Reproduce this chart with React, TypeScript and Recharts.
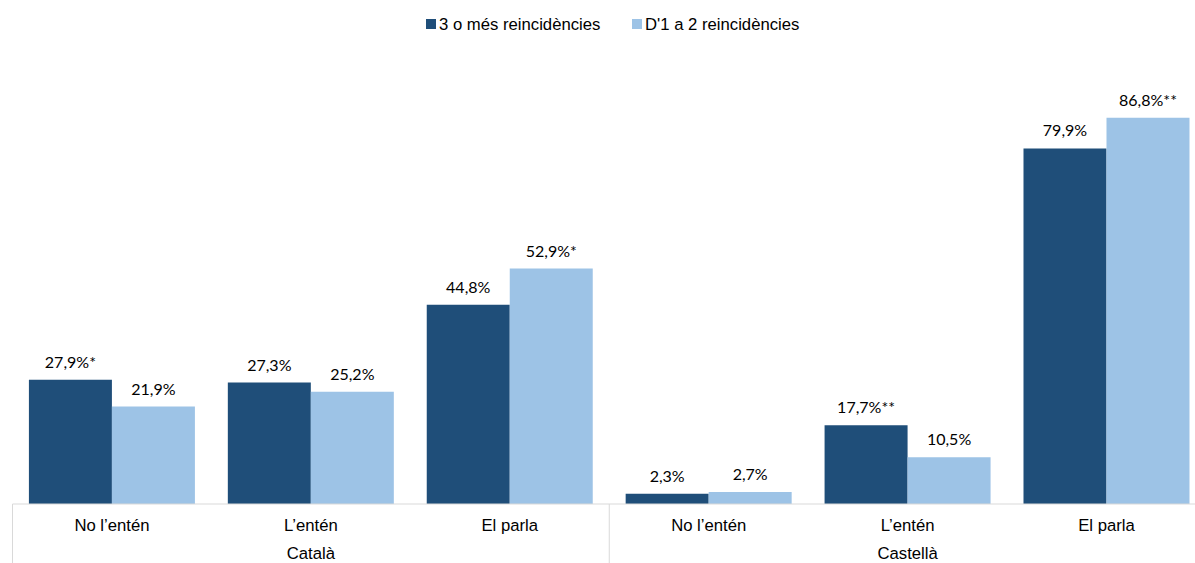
import React from "react";
import { BarChart, Bar, XAxis, YAxis, LabelList } from "recharts";

const categories = ["No l\u2019entén", "L\u2019entén", "El parla", "No l\u2019entén", "L\u2019entén", "El parla"];
const groups = ["Català", "Castellà"];
const seriesNames = ["3 o més reincidències", "D'1 a 2 reincidències"];
const tresOMes = [27.9, 27.3, 44.8, 2.3, 17.7, 79.9];
const unADos = [21.9, 25.2, 52.9, 2.7, 10.5, 86.8];
const labelsTres = ["27,9%*", "27,3%", "44,8%", "2,3%", "17,7%**", "79,9%"];
const labelsUn = ["21,9%", "25,2%", "52,9%*", "2,7%", "10,5%", "86,8%**"];

const DARK = "#1F4E79";
const LIGHT = "#9DC3E6";
const W = 1195;
const CW = 1206;
const H = 563;
const M = { top: 59, right: 0, left: 12.5, bottom: 0 };
const AXIS_H = 59;

const data = categories.map((c, i) => ({
  key: `${i}`,
  cat: c,
  a: tresOMes[i],
  b: unADos[i],
  la: labelsTres[i],
  lb: labelsUn[i],
}));

const plotW = CW - M.left - M.right;
const slot = plotW / categories.length;
const AXIS_Y = H - AXIS_H;
const FONT = "Liberation Sans, Arial, sans-serif";

const Tick = (props: any) => {
  const { x, payload } = props;
  const i = Number(payload.value);
  const axisY = AXIS_Y;
  const lines: React.ReactNode[] = [];
  if (i === 0 || i === 3) {
    lines.push(<line key="l" x1={x - slot / 2} x2={x - slot / 2} y1={axisY} y2={H} stroke="#d9d9d9" strokeWidth={1} />);
  }
  return (
    <g>
      {lines}
      <text x={x} y={axisY + 27} textAnchor="middle" fontFamily={FONT} fontSize={16.7} fill="#000">
        {categories[i]}
      </text>
      {(i === 1 || i === 4) && (
        <text x={x} y={axisY + 55} textAnchor="middle" fontFamily={FONT} fontSize={16.7} fill="#000">
          {groups[i === 1 ? 0 : 1]}
        </text>
      )}
    </g>
  );
};

const Legend = () => (
  <g fontFamily={FONT} fontSize={16.7} fill="#000">
    <rect x={426} y={19} width={10} height={10} fill={DARK} />
    <text x={439} y={30}>{seriesNames[0]}</text>
    <rect x={632} y={19} width={10} height={10} fill={LIGHT} />
    <text x={645} y={30}>{seriesNames[1]}</text>
  </g>
);

const renderLabel = (field: "la" | "lb") => (props: any) => {
  const { x, y, width, index } = props;
  const txt = data[index][field];
  return (
    <text x={x + width / 2} y={y - 12} textAnchor="middle" fontFamily="Lato, 'Open Sans', sans-serif" fontSize={16} fill="#000">
      {txt}
    </text>
  );
};

export default function App() {
  return (
    <div style={{ position: "absolute", left: 0, top: 0, width: W, height: H, background: "#fff", overflow: "hidden" }}>
      <BarChart width={CW} height={H} data={data} margin={M} barCategoryGap="8.25%" barGap={0}>
        <XAxis
          dataKey="key"
          axisLine={{ stroke: "#d9d9d9" }}
          tickLine={false}
          height={AXIS_H}
          interval={0}
          tick={<Tick />}
        />
        <YAxis hide domain={[0, 100]} />
        <Bar dataKey="a" fill={DARK} isAnimationActive={false}>
          <LabelList dataKey="la" content={renderLabel("la")} />
        </Bar>
        <Bar dataKey="b" fill={LIGHT} isAnimationActive={false}>
          <LabelList dataKey="lb" content={renderLabel("lb")} />
        </Bar>
        <Legend />
      </BarChart>
    </div>
  );
}
